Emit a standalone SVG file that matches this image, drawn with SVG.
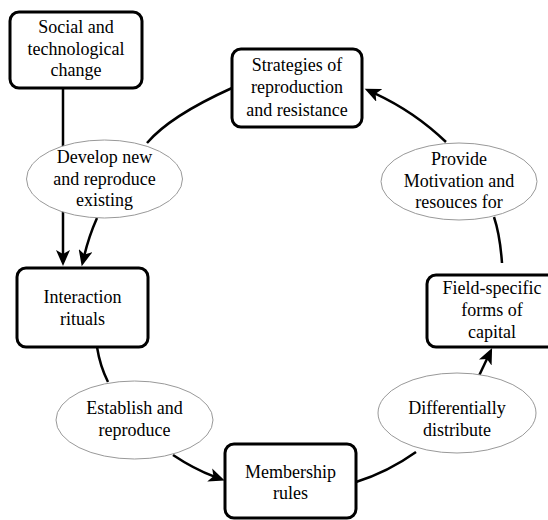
<svg xmlns="http://www.w3.org/2000/svg" width="548" height="520" viewBox="0 0 548 520">
<style>
.box{fill:#fff;stroke:#000;stroke-width:3}
.ell{fill:#fff;stroke:#999;stroke-width:1}
.c{fill:none;stroke:#000;stroke-width:2.5}
text{font-family:"Liberation Serif","Times New Roman",serif;font-size:18px;fill:#000;text-anchor:middle}
</style>
<defs>
<marker id="ah" markerUnits="userSpaceOnUse" markerWidth="17" markerHeight="14" refX="5" refY="7" orient="auto" viewBox="0 0 17 14">
<path d="M0,0 L16,7 L0,14 L4,7 z" fill="#000"/>
</marker>
</defs>
<rect width="548" height="520" fill="#fff"/>
<g id="connectors">
<path class="c" d="M63,88 L63,255" marker-end="url(#ah)"/>
<path class="c" d="M232,88 Q170,116 147,143"/>
<path class="c" d="M97,218 Q89,236 84.3,255.5" marker-end="url(#ah)"/>
<path class="c" d="M97,347 Q100,366 108,382"/>
<path class="c" d="M173,455 Q194,469 214.4,476.7" marker-end="url(#ah)"/>
<path class="c" d="M356,482 Q388,472 416,452"/>
<path class="c" d="M477,380 L487.4,358" marker-end="url(#ah)"/>
<path class="c" d="M502,263 Q500,235 494,217"/>
<path class="c" d="M446,142 Q415,112 374.7,93.3" marker-end="url(#ah)"/>
</g>
<g id="social">
<rect class="box" x="10" y="12" width="132" height="76" rx="9"/>
<text x="76" y="33">Social and</text>
<text x="76" y="54.5">technological</text>
<text x="76" y="76">change</text>
</g>
<g id="strategies">
<rect class="box" x="232" y="49" width="130" height="78" rx="9"/>
<text x="297" y="71">Strategies of</text>
<text x="297" y="93">reproduction</text>
<text x="297" y="116">and resistance</text>
</g>
<g id="develop">
<ellipse class="ell" cx="104.5" cy="179" rx="78" ry="39"/>
<text x="104.5" y="163">Develop new</text>
<text x="104.5" y="184.5">and reproduce</text>
<text x="104.5" y="206">existing</text>
</g>
<g id="provide">
<ellipse class="ell" cx="459" cy="181.5" rx="78" ry="38.5"/>
<text x="459" y="165">Provide</text>
<text x="459" y="186.5">Motivation and</text>
<text x="459" y="208">resouces for</text>
</g>
<g id="interaction">
<rect class="box" x="17" y="268" width="131" height="79" rx="9"/>
<text x="82.5" y="303">Interaction</text>
<text x="82.5" y="325">rituals</text>
</g>
<g id="establish">
<ellipse class="ell" cx="134.5" cy="420" rx="78.5" ry="39"/>
<text x="134.5" y="414">Establish and</text>
<text x="134.5" y="436">reproduce</text>
</g>
<g id="membership">
<rect class="box" x="225" y="444" width="131" height="74" rx="9"/>
<text x="290.5" y="478">Membership</text>
<text x="290.5" y="499">rules</text>
</g>
<g id="field">
<rect class="box" x="427" y="275" width="130" height="72" rx="9"/>
<text x="492" y="294">Field-specific</text>
<text x="492" y="316">forms of</text>
<text x="492" y="338">capital</text>
</g>
<g id="differentially">
<ellipse class="ell" cx="457" cy="413" rx="79" ry="40"/>
<text x="457" y="414">Differentially</text>
<text x="457" y="436">distribute</text>
</g>
</svg>
